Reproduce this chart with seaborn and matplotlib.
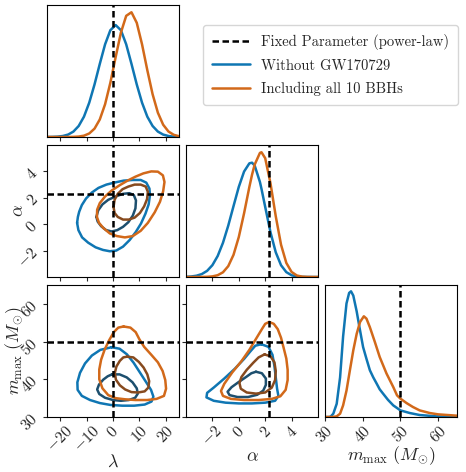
import matplotlib
matplotlib.use("Agg")
import matplotlib.pyplot as plt
from matplotlib.lines import Line2D
import seaborn as sns
import pandas as pd

# ---------------- data ----------------
LAMBDA_FIXED = 0.0
ALPHA_FIXED = 2.3
MMAX_FIXED = 50.0

lam_ticks = [-20, -10, 0, 10, 20]
alpha_ticks = [-2, 0, 2, 4]
mmax_ticks = [30, 40, 50, 60]

# 1D marginals (normalised to panel height)
lam_grid = [-25, -23, -21, -19, -17, -15, -13, -11, -9, -7, -5, -3, -1,
            1, 3, 5, 7, 9, 11, 13, 15, 17, 19, 21, 23, 25]
lam_blue = [0.0003, 0.0009, 0.0028, 0.0075, 0.0183, 0.041, 0.0834, 0.154, 0.260,
            0.398, 0.554, 0.702, 0.809, 0.848, 0.809, 0.702, 0.554, 0.398,
            0.260, 0.154, 0.0834, 0.041, 0.0183, 0.0075, 0.0028, 0.0009]
lam_orange = [0.0, 0.0, 0.0, 0.0001, 0.0003, 0.001, 0.0033, 0.010, 0.0267, 0.0632,
              0.133, 0.248, 0.411, 0.605, 0.791, 0.918, 0.945, 0.865, 0.702,
              0.506, 0.324, 0.184, 0.0931, 0.0417, 0.0166, 0.0059]

alpha_grid = [-4.0, -3.6, -3.2, -2.8, -2.4, -2.0, -1.6, -1.2, -0.8, -0.4, 0.0,
              0.4, 0.8, 1.0, 1.2, 1.6, 1.72, 2.0, 2.4, 2.8, 3.2, 3.6, 4.0, 4.4,
              4.8, 5.2, 5.6, 6.0]
alpha_blue = [0.0015, 0.004, 0.0098, 0.0223, 0.0466, 0.0897, 0.159, 0.259, 0.389,
              0.537, 0.683, 0.799, 0.861, 0.866, 0.845, 0.720, 0.667, 0.531,
              0.339, 0.187, 0.089, 0.0368, 0.0131, 0.004, 0.0011, 0.0003,
              0.0001, 0.0]
alpha_orange = [0.0, 0.0, 0.0001, 0.0004, 0.0014, 0.0046, 0.0136, 0.0355, 0.0821,
                0.168, 0.303, 0.483, 0.682, 0.774, 0.851, 0.940, 0.945, 0.900,
                0.710, 0.460, 0.2445, 0.1066, 0.0382, 0.0112, 0.0027, 0.0005,
                0.0001, 0.0]

mmax_grid_blue = [30, 31, 31.5, 32.2, 33.1, 34.0, 34.8, 35.7, 36.4, 36.9, 37.5,
                  38.4, 39.2, 40.1, 41.0, 41.9, 42.8, 43.7, 44.5, 45.4, 46.7,
                  48.1, 50.0, 52.5, 55.1, 59.5, 65]
mmax_blue = [0.0, 0.0, 0.003, 0.025, 0.10, 0.30, 0.61, 0.86, 0.94, 0.952, 0.92,
             0.80, 0.67, 0.53, 0.44, 0.354, 0.30, 0.253, 0.21, 0.177, 0.13,
             0.088, 0.05, 0.03, 0.015, 0.005, 0.001]
mmax_grid_orange = [30, 32, 33.1, 34.0, 34.8, 35.7, 36.6, 37.5, 38.4, 39.3, 40.3,
                    41.0, 41.9, 43.2, 44.5, 46.3, 48.1, 49.1, 50.0, 51.6, 53.3,
                    55.1, 57.8, 60.0, 65.0]
mmax_orange = [0.0, 0.0, 0.005, 0.025, 0.088, 0.20, 0.354, 0.505, 0.63, 0.72,
               0.763, 0.745, 0.68, 0.57, 0.455, 0.33, 0.227, 0.164, 0.139, 0.106,
               0.076, 0.05, 0.03, 0.02, 0.01]

# 2D credible contours (outer = 90%, inner = 50%)
la_blue_outer_lam = [-13.6, -13.3, -12.8, -11.8, -10.2, -8.0, -5.5, -2.5, 0.5, 4.0,
                     7.5, 10.5, 12.6, 13.8, 14.0, 13.5, 12.3, 10.6, 8.6, 6.3, 3.8,
                     1.2, -1.2, -3.8, -6.6, -9.4, -11.7, -13.1]
la_blue_outer_alpha = [0.1, 0.55, 0.95, 1.45, 1.95, 2.4, 2.75, 3.0, 3.15, 3.3,
                       3.35, 3.35, 3.15, 2.7, 2.2, 1.5, 0.8, 0.05, -0.6, -1.2, -1.7,
                       -2.0, -2.05, -1.95, -1.75, -1.4, -1.0, -0.45]
la_blue_inner_lam = [-6.3, -5.6, -4.0, -1.8, 1.0, 3.8, 6.2, 7.9, 8.7, 8.5, 7.5,
                     5.8, 3.8, 1.6, -0.5, -2.6, -4.5, -5.8]
la_blue_inner_alpha = [0.55, 1.05, 1.5, 1.85, 2.1, 2.3, 2.35, 2.2, 1.8, 1.2, 0.65,
                       0.15, -0.2, -0.45, -0.55, -0.45, -0.15, 0.2]
la_orange_outer_lam = [-6.1, -6.0, -5.0, -3.0, -0.5, 2.5, 5.5, 8.5, 11.5, 14.5,
                       17.0, 18.9, 19.5, 19.0, 17.8, 15.8, 13.2, 10.5, 7.5, 4.5,
                       1.5, -1.2, -3.6, -5.3]
la_orange_outer_alpha = [0.55, 1.1, 1.6, 2.1, 2.55, 2.95, 3.3, 3.6, 3.85, 4.0,
                         3.98, 3.7, 3.2, 2.5, 1.7, 0.9, 0.1, -0.5, -0.9, -1.0,
                         -0.9, -0.7, -0.3, 0.1]
la_orange_inner_lam = [0.2, 0.6, 1.8, 3.6, 5.8, 8.2, 10.5, 12.4, 13.2, 12.9, 11.8,
                       10.2, 8.2, 6.0, 3.8, 1.8, 0.6]
la_orange_inner_alpha = [1.3, 1.85, 2.3, 2.65, 2.85, 3.0, 3.0, 2.85, 2.45, 1.9,
                         1.35, 0.85, 0.5, 0.35, 0.35, 0.55, 0.85]

lm_blue_outer_lam = [-0.5, 2.5, 5.3, 7.8, 10.2, 12.5, 14.4, 15.3, 14.6, 12.0, 8.0,
                     3.5, -1.0, -5.0, -8.7, -11.8, -13.4, -13.5, -12.5, -10.6,
                     -8.0, -4.8]
lm_blue_outer_mmax = [48.5, 48.1, 46.6, 44.4, 41.8, 39.3, 37.2, 35.4, 34.1, 33.3,
                      33.0, 33.0, 33.2, 33.7, 34.5, 35.6, 37.2, 39.2, 41.7, 44.2,
                      46.3, 47.8]
lm_blue_inner_lam = [-0.4, 2.5, 5.2, 7.4, 9.0, 9.4, 8.4, 6.0, 3.0, 0.0, -3.0,
                     -5.2, -6.0, -5.3, -3.7, -2.0]
lm_blue_inner_mmax = [41.3, 41.3, 40.5, 39.2, 37.6, 36.2, 35.1, 34.5, 34.3, 34.5,
                      35.1, 36.1, 37.3, 38.6, 39.9, 40.8]
lm_orange_outer_lam = [4.0, 6.6, 8.6, 10.0, 11.8, 14.5, 17.0, 18.8, 19.8, 20.1,
                       19.3, 16.5, 12.9, 8.5, 4.5, 1.0, -1.8, -4.0, -5.2, -5.2,
                       -4.5, -3.2, -1.5, 0.3, 2.0]
lm_orange_outer_mmax = [54.0, 53.7, 52.5, 50.6, 48.6, 46.5, 44.5, 42.2, 39.8, 37.5,
                        35.6, 34.8, 34.5, 34.5, 34.7, 35.0, 35.8, 37.6, 40.0, 42.6,
                        45.2, 47.8, 50.3, 52.5, 53.7]
lm_orange_inner_lam = [5.3, 7.7, 9.8, 11.6, 13.0, 13.7, 13.4, 12.0, 9.5, 7.0, 4.6,
                       2.6, 1.1, 0.7, 1.3, 2.6, 3.9]
lm_orange_inner_mmax = [46.0, 45.8, 44.6, 43.1, 41.3, 39.5, 37.8, 36.8, 36.5, 36.6,
                        37.3, 38.4, 39.9, 41.7, 43.4, 44.9, 45.8]

am_blue_outer_alpha = [1.7, 2.25, 2.55, 2.7, 2.8, 2.9, 3.0, 2.75, 2.0, 1.0, 0.0,
                       -1.0, -1.9, -2.45, -2.4, -1.9, -1.1, -0.3, 0.4, 0.9, 1.25]
am_blue_outer_mmax = [49.3, 48.6, 46.5, 43.5, 40.5, 37.5, 35.6, 34.3, 33.8, 33.6,
                      33.6, 33.8, 34.3, 35.2, 36.4, 37.8, 40.2, 42.8, 45.4, 47.5,
                      48.9]
am_blue_inner_alpha = [1.3, 1.75, 2.05, 2.05, 1.85, 1.4, 0.7, -0.1, -0.7, -0.85,
                       -0.55, 0.0, 0.55, 0.95]
am_blue_inner_mmax = [42.0, 41.6, 40.2, 38.5, 37.0, 35.9, 35.3, 35.3, 35.8, 36.7,
                      37.9, 39.3, 40.6, 41.6]
am_orange_outer_alpha = [2.3, 2.65, 2.95, 3.2, 3.4, 3.6, 3.7, 3.7, 3.55, 3.15, 2.5,
                         1.5, 0.4, -0.6, -1.2, -1.35, -1.1, -0.5, 0.2, 0.8, 1.3,
                         1.75, 2.0]
am_orange_outer_mmax = [55.2, 54.7, 53.3, 51.0, 48.3, 45.5, 42.5, 39.8, 37.2, 35.5,
                        34.8, 34.5, 34.5, 34.8, 35.6, 36.9, 38.8, 41.8, 44.8, 47.8,
                        50.7, 53.3, 54.7]
am_orange_inner_alpha = [1.95, 2.4, 2.7, 2.8, 2.75, 2.5, 2.0, 1.3, 0.6, 0.15,
                         0.05, 0.2, 0.6, 1.1, 1.5]
am_orange_inner_mmax = [46.6, 46.1, 44.5, 42.2, 39.8, 37.8, 36.5, 36.2, 36.5, 37.5,
                        39.0, 40.6, 42.5, 44.4, 45.8]

labels = ["Fixed Parameter (power-law)", "Without GW170729", "Including all 10 BBHs"]

# ---------------- style ----------------
sns.set_theme(style="ticks")
plt.rcParams["font.family"] = "serif"
plt.rcParams["font.serif"] = ["cmr10", "DejaVu Serif"]
plt.rcParams["mathtext.fontset"] = "cm"
plt.rcParams["axes.formatter.use_mathtext"] = True
plt.rcParams["axes.unicode_minus"] = True

C_BLUE = "#0F76B3"
C_ORANGE = "#D2691A"
C_BLUE_D = "#1D4F6E"
C_ORANGE_D = "#874A1E"
LW = 1.8
DASH = (0, (2.6, 1.4))

fig = plt.figure(figsize=(4.66, 4.72), dpi=100)
W, H = 466.0, 472.0
col_left = [47, 186, 325]
row_top = [5, 145, 285]
size = 132


def make_ax(r, c):
    return fig.add_axes([col_left[c] / W, 1 - (row_top[r] + size) / H, size / W, size / H])


def closed(v):
    return list(v) + [v[0]]


def contour(ax, xs, ys, color):
    df = pd.DataFrame({"x": closed(xs), "y": closed(ys)})
    sns.lineplot(data=df, x="x", y="y", sort=False, estimator=None, color=color,
                 lw=LW, ax=ax)


def marginal(ax, xs, ys, color):
    df = pd.DataFrame({"x": xs, "y": ys})
    sns.lineplot(data=df, x="x", y="y", sort=False, estimator=None, color=color,
                 lw=LW, ax=ax)


def style(ax):
    for s in ax.spines.values():
        s.set_linewidth(0.8)
        s.set_color("black")
        s.set_visible(True)
    ax.tick_params(direction="out", length=3, width=0.8, labelsize=11.5, pad=1.5)
    ax.set_xlabel("")
    ax.set_ylabel("")


lims = {"lam": (-25, 25), "alpha": (-4, 6), "mmax": (30, 65)}
ticks = {"lam": lam_ticks, "alpha": alpha_ticks, "mmax": mmax_ticks}

# diagonal
ax11 = make_ax(0, 0)
marginal(ax11, lam_grid, lam_blue, C_BLUE)
marginal(ax11, lam_grid, lam_orange, C_ORANGE)
ax11.axvline(LAMBDA_FIXED, color="black", ls=DASH, lw=LW)
ax22 = make_ax(1, 1)
marginal(ax22, alpha_grid, alpha_blue, C_BLUE)
marginal(ax22, alpha_grid, alpha_orange, C_ORANGE)
ax22.axvline(ALPHA_FIXED, color="black", ls=DASH, lw=LW)
ax33 = make_ax(2, 2)
marginal(ax33, mmax_grid_blue, mmax_blue, C_BLUE)
marginal(ax33, mmax_grid_orange, mmax_orange, C_ORANGE)
ax33.axvline(MMAX_FIXED, color="black", ls=DASH, lw=LW)
for ax, key in [(ax11, "lam"), (ax22, "alpha"), (ax33, "mmax")]:
    style(ax)
    ax.set_xlim(*lims[key])
    ax.set_ylim(0, 1)
    ax.set_xticks(ticks[key])
    ax.set_yticks([])
ax11.set_xticklabels([])
ax22.set_xticklabels([])

# off-diagonal
ax21 = make_ax(1, 0)
contour(ax21, la_blue_outer_lam, la_blue_outer_alpha, C_BLUE)
contour(ax21, la_blue_inner_lam, la_blue_inner_alpha, C_BLUE_D)
contour(ax21, la_orange_outer_lam, la_orange_outer_alpha, C_ORANGE)
contour(ax21, la_orange_inner_lam, la_orange_inner_alpha, C_ORANGE_D)
ax31 = make_ax(2, 0)
contour(ax31, lm_blue_outer_lam, lm_blue_outer_mmax, C_BLUE)
contour(ax31, lm_blue_inner_lam, lm_blue_inner_mmax, C_BLUE_D)
contour(ax31, lm_orange_outer_lam, lm_orange_outer_mmax, C_ORANGE)
contour(ax31, lm_orange_inner_lam, lm_orange_inner_mmax, C_ORANGE_D)
ax32 = make_ax(2, 1)
contour(ax32, am_blue_outer_alpha, am_blue_outer_mmax, C_BLUE)
contour(ax32, am_blue_inner_alpha, am_blue_inner_mmax, C_BLUE_D)
contour(ax32, am_orange_outer_alpha, am_orange_outer_mmax, C_ORANGE)
contour(ax32, am_orange_inner_alpha, am_orange_inner_mmax, C_ORANGE_D)

fixed = {"lam": LAMBDA_FIXED, "alpha": ALPHA_FIXED, "mmax": MMAX_FIXED}
for ax, kx, ky in [(ax21, "lam", "alpha"), (ax31, "lam", "mmax"), (ax32, "alpha", "mmax")]:
    style(ax)
    ax.axvline(fixed[kx], color="black", ls=DASH, lw=LW)
    ax.axhline(fixed[ky], color="black", ls=DASH, lw=LW)
    ax.set_xlim(*lims[kx])
    ax.set_ylim(*lims[ky])
    ax.set_xticks(ticks[kx])
    ax.set_yticks(ticks[ky])

ax21.set_xticklabels([])
ax32.set_yticklabels([])
for ax in [ax21, ax31, ax32, ax33]:
    for t in ax.get_xticklabels():
        t.set_rotation(45)
    for t in ax.get_yticklabels():
        t.set_rotation(45)

lab_fs = 13
ax31.set_xlabel(r"$\lambda$", fontsize=lab_fs)
ax32.set_xlabel(r"$\alpha$", fontsize=lab_fs)
ax33.set_xlabel(r"$m_{\rm max}\ (M_{\odot})$", fontsize=lab_fs)
ax21.set_ylabel(r"$\alpha$", fontsize=lab_fs)
ax31.set_ylabel(r"$m_{\rm max}\ (M_{\odot})$", fontsize=lab_fs)
ax31.xaxis.set_label_coords(0.5, -0.273)
ax32.xaxis.set_label_coords(0.5, -0.242)
ax33.xaxis.set_label_coords(0.5, -0.205)
ax21.yaxis.set_label_coords(-0.16, 0.5)
ax31.yaxis.set_label_coords(-0.16, 0.5)

handles = [Line2D([], [], color="black", ls=(0, (2.6, 1.4)), lw=LW),
           Line2D([], [], color=C_BLUE, lw=LW),
           Line2D([], [], color=C_ORANGE, lw=LW)]
fig.legend(handles, labels, loc="upper right", bbox_to_anchor=(458 / W, 1 - 25 / H),
           fontsize=10.5, handlelength=2.6, labelspacing=0.62, borderpad=0.6,
           borderaxespad=0.0, frameon=True)

fig.savefig("out.png", dpi=100)
